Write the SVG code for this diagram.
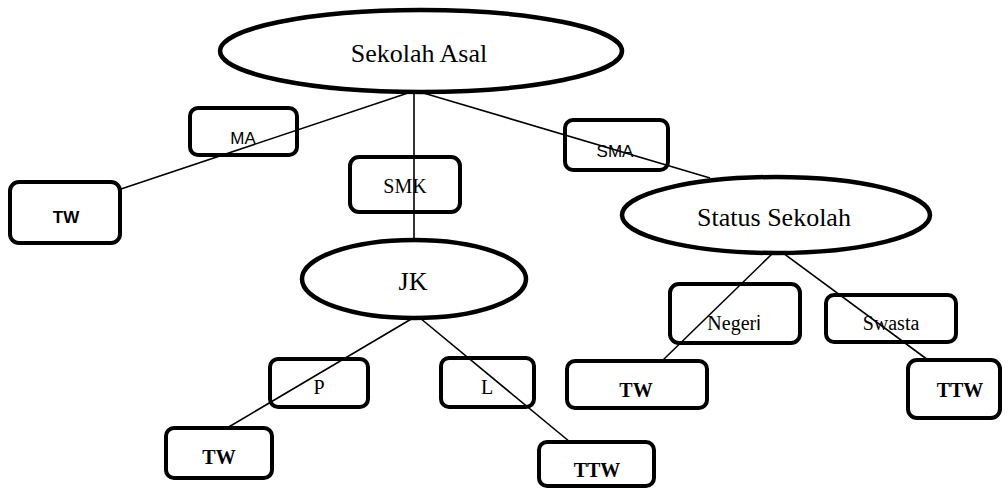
<svg xmlns="http://www.w3.org/2000/svg" width="1008" height="488" viewBox="0 0 1008 488">
  <style>
    .box { fill: #ffffff; stroke: #000000; stroke-width: 4; }
    .oval { fill: #ffffff; stroke: #000000; stroke-width: 4.5; }
    .edge { stroke: #000000; stroke-width: 1.6; fill: none; }
    .serif { font-family: "Liberation Serif", "Times New Roman", serif; fill: #000000; text-anchor: middle; }
    .sans { font-family: "Liberation Sans", Arial, sans-serif; fill: #000000; text-anchor: middle; }
    .big { font-size: 26px; }
    .mid { font-size: 20px; }
    .small { font-size: 17px; }
    .bold { font-weight: bold; }
  </style>

  <!-- root -->
  <g id="node-sekolah-asal">
    <ellipse class="oval" cx="421" cy="51" rx="201" ry="41"/>
    <text class="serif big" x="419" y="62">Sekolah Asal</text>
  </g>

  <!-- first level -->
  <g id="node-ma">
    <rect class="box" x="190" y="108" width="107" height="47" rx="8"/>
    <text class="sans small" x="243" y="144">MA</text>
  </g>
  <g id="node-tw-ma">
    <rect class="box" x="10" y="182" width="110" height="61" rx="9"/>
    <text class="sans small bold" x="66" y="223">TW</text>
  </g>
  <g id="node-smk">
    <rect class="box" x="350" y="157" width="110" height="55" rx="9"/>
    <text class="serif mid" x="405" y="193">SMK</text>
  </g>
  <g id="node-sma">
    <rect class="box" x="565" y="120" width="103" height="50" rx="8"/>
    <text class="sans small" x="615" y="157">SMA</text>
  </g>

  <!-- JK branch -->
  <g id="node-jk">
    <ellipse class="oval" cx="414" cy="279" rx="112" ry="39"/>
    <text class="serif big" x="413" y="290">JK</text>
  </g>
  <g id="node-p">
    <rect class="box" x="270" y="359" width="98" height="48" rx="8"/>
    <text class="serif mid" x="319" y="394">P</text>
  </g>
  <g id="node-l">
    <rect class="box" x="441" y="358" width="93" height="49" rx="8"/>
    <text class="serif mid" x="487" y="394">L</text>
  </g>
  <g id="node-tw-p">
    <rect class="box" x="166" y="428" width="106" height="50" rx="8"/>
    <text class="serif mid bold" x="219" y="464">TW</text>
  </g>
  <g id="node-ttw-l">
    <rect class="box" x="539" y="442" width="115" height="44" rx="8"/>
    <text class="serif mid bold" x="597" y="477">TTW</text>
  </g>

  <!-- Status Sekolah branch -->
  <g id="node-status-sekolah">
    <ellipse class="oval" cx="776" cy="215" rx="154" ry="38"/>
    <text class="serif big" x="774" y="226">Status Sekolah</text>
  </g>
  <g id="node-negeri">
    <rect class="box" x="670" y="284" width="130" height="59" rx="9"/>
    <!-- the final letter is set in a sans face -->
    <text class="serif mid" x="734" y="330">Neger<tspan style="font-family:'Liberation Sans', Arial, sans-serif">i</tspan></text>
  </g>
  <g id="node-swasta">
    <rect class="box" x="826" y="295" width="130" height="47" rx="8"/>
    <text class="serif mid" x="891" y="330">Swasta</text>
  </g>
  <g id="node-tw-negeri">
    <rect class="box" x="567" y="361" width="140" height="47" rx="8"/>
    <text class="serif mid bold" x="636" y="397">TW</text>
  </g>
  <g id="node-ttw-swasta">
    <rect class="box" x="908" y="360" width="92" height="58" rx="9"/>
    <text class="serif mid bold" x="960" y="397">TTW</text>
  </g>

  <!-- connectors -->
  <g id="connectors">
    <line class="edge" x1="411" y1="92" x2="121" y2="189"/>
    <line class="edge" x1="414" y1="92" x2="414" y2="240"/>
    <line class="edge" x1="420" y1="92" x2="710" y2="178"/>
    <line class="edge" x1="413" y1="318" x2="227" y2="428"/>
    <line class="edge" x1="420" y1="318" x2="570" y2="442"/>
    <line class="edge" x1="773" y1="253" x2="662" y2="361"/>
    <line class="edge" x1="783" y1="253" x2="928" y2="360"/>
  </g>
</svg>
